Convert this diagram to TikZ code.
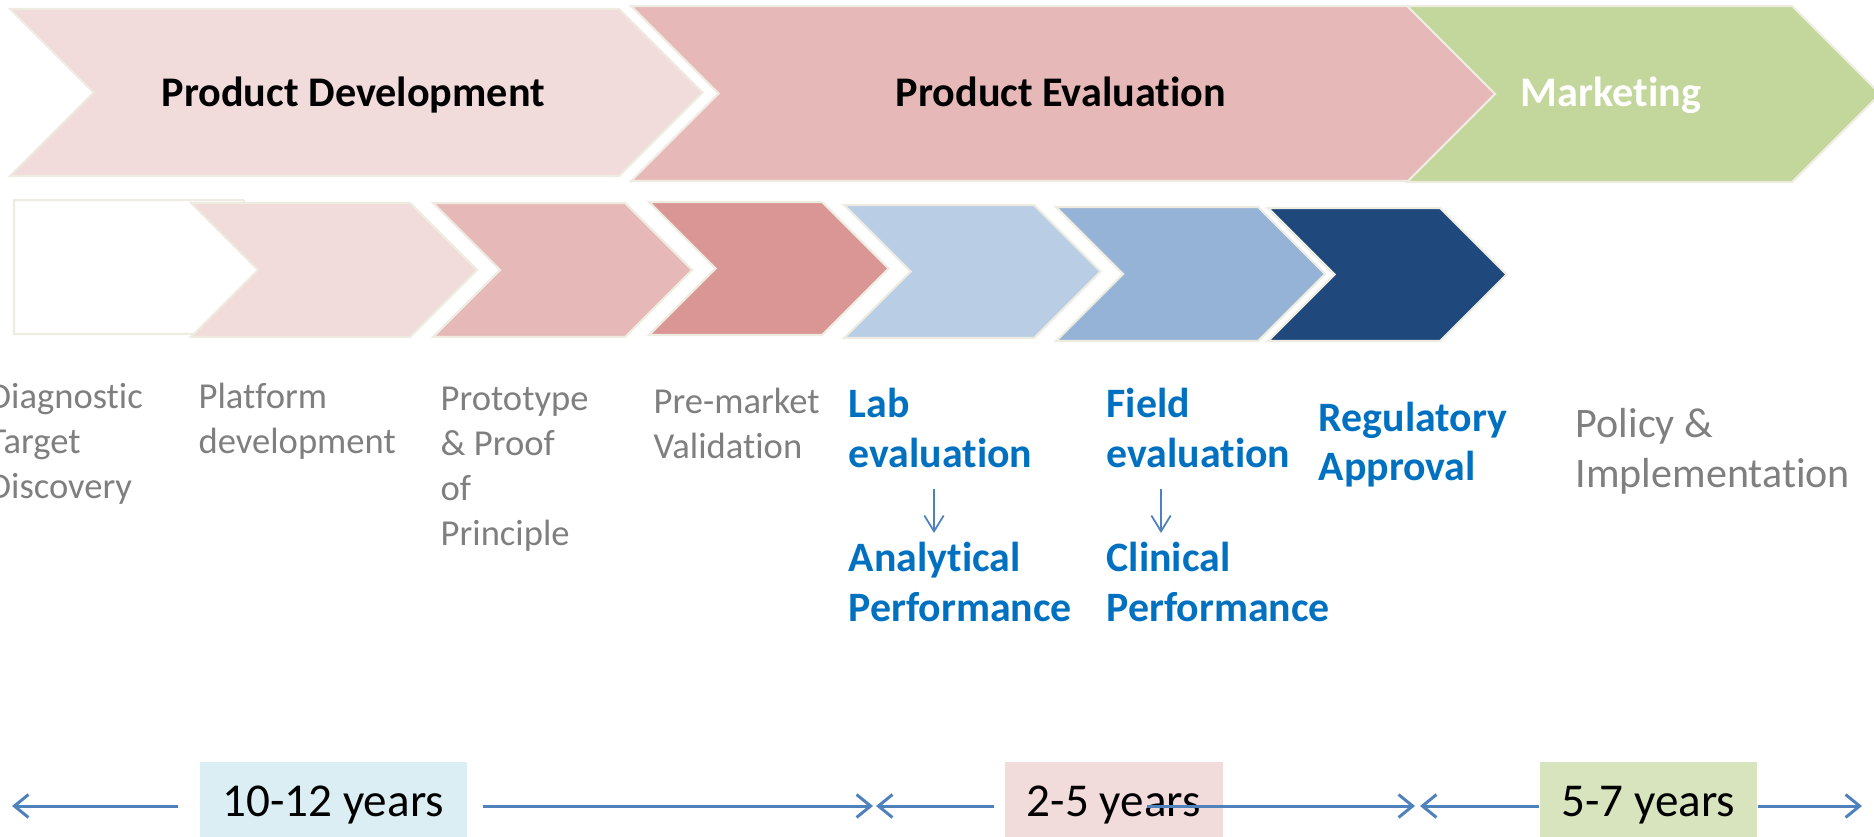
\documentclass[tikz,border=0pt]{standalone}
\usepackage{fontspec}
\setmainfont{Carlito}[Ligatures=CommonOff]
\usetikzlibrary{arrows.meta}
\definecolor{pkA}{HTML}{F2DCDB}
\definecolor{pkB}{HTML}{E6B9B8}
\definecolor{pkC}{HTML}{D99694}
\definecolor{blA}{HTML}{B9CDE5}
\definecolor{blB}{HTML}{95B3D7}
\definecolor{navy}{HTML}{1F497D}
\definecolor{grn}{HTML}{C3D69B}
\definecolor{cream}{HTML}{EEECE1}
\definecolor{txtgray}{HTML}{7F7F7F}
\definecolor{txtblue}{HTML}{0070C0}
\definecolor{lnblue}{HTML}{4F81BD}
\definecolor{yrA}{HTML}{DAEEF3}
\definecolor{yrB}{HTML}{F2DCDB}
\definecolor{yrC}{HTML}{D7E4BD}
\newcommand\mychev[5]{%
  \pgfmathsetmacro\chM{(#4+#5)/2}%
  \pgfmathsetmacro\chD{(#5-#4)/2}%
  \path[#1] (#2,#4) -- (#3,#4) -- ({#3+\chD},\chM) -- (#3,#5) -- (#2,#5) -- ({#2+\chD},\chM) -- cycle;}
\tikzset{
  chevbox/.style={draw=cream, line width=0.6pt, line join=miter},
  hdr/.style={anchor=base west, inner sep=0, font=\bfseries\fontsize{12}{14}\selectfont},
  graylbl/.style={anchor=base west, inner sep=0, text=txtgray, font=\fontsize{10.4}{12.8}\selectfont},
  bluelbl/.style={anchor=base west, inner sep=0, text=txtblue, font=\bfseries\fontsize{11.9}{14.5}\selectfont},
  biglbl/.style={anchor=base west, inner sep=0, text=txtgray, font=\fontsize{11.95}{14.5}\selectfont},
  yrbox/.style={anchor=north west, inner sep=0, minimum height=0.76cm, text height=15.65pt, text depth=5.98pt, font=\fontsize{13.4}{16}\selectfont},
  tline/.style={draw=lnblue, line width=0.85pt, -{Straight Barb[length=4pt,width=6.5pt]}},
  dline/.style={draw=lnblue, line width=0.5pt, -{Straight Barb[length=4.5pt,width=5.5pt]}}
}
\begin{document}
\begin{tikzpicture}[x=0.01cm, y=-0.01cm]
\useasboundingbox (0,0) rectangle (1874,837);
% top row
\mychev{chevbox, fill=pkA}{10}{619}{9}{176}
\mychev{chevbox, fill=pkB}{631}{1408}{6}{181}
\mychev{chevbox, fill=grn}{1407}{1792}{6}{182}
\node[hdr] (pd) at (161,107) {Product Development};
\node[hdr] (pe) at (895,107) {Product Evaluation};
\node[hdr, text=white] (mk) at (1520,107) {Marketing};
% lower row
\path[chevbox, fill=white] (14,200) -- (243,200) -- (310,267) -- (243,334) -- (14,334) -- cycle;
\mychev{chevbox, fill=pkA}{191}{410}{203}{337}
\mychev{chevbox, fill=pkB}{433}{625}{203}{337}
\mychev{chevbox, fill=pkC}{649}{822}{202}{335}
\mychev{chevbox, fill=blA}{844}{1034}{205}{338}
\mychev{chevbox, fill=blB}{1056}{1258}{207}{341}
\mychev{chevbox, fill=navy}{1268}{1440}{208}{341}
% labels
\node[graylbl] (diag) at (-12,408) {\begin{tabular}[t]{@{}l@{}}Diagnostic\\Target\\Discovery\end{tabular}};
\node[graylbl] (plat) at (198,408) {\begin{tabular}[t]{@{}l@{}}Platform\\development\end{tabular}};
\node[graylbl] (prot) at (440,410) {\begin{tabular}[t]{@{}l@{}}Prototype\\\& Proof\\of\\Principle\end{tabular}};
\node[graylbl] (prem) at (653,413) {\begin{tabular}[t]{@{}l@{}}Pre-market\\Validation\end{tabular}};
\node[bluelbl] (lab) at (848,417) {\begin{tabular}[t]{@{}l@{}}Lab\\evaluation\end{tabular}};
\node[bluelbl] (ana) at (848,571) {\begin{tabular}[t]{@{}l@{}}Analytical\\Performance\end{tabular}};
\node[bluelbl] (fld) at (1106,417) {\begin{tabular}[t]{@{}l@{}}Field\\evaluation\end{tabular}};
\node[bluelbl] (cli) at (1106,571) {\begin{tabular}[t]{@{}l@{}}Clinical\\Performance\end{tabular}};
\node[bluelbl, font=\bfseries\fontsize{11.9}{14.2}\selectfont] (reg) at (1318,431) {\begin{tabular}[t]{@{}l@{}}Regulatory\\Approval\end{tabular}};
\node[biglbl] (pol) at (1575,437) {\begin{tabular}[t]{@{}l@{}}Policy \&\\Implementation\end{tabular}};
% down arrows
\coordinate (a1s) at (934,489); \coordinate (a1e) at (934,533);
\coordinate (a2s) at (1161,489); \coordinate (a2e) at (1161,533);
\draw[dline] (a1s) -- (a1e);
\draw[dline] (a2s) -- (a2e);
% timeline
\node[yrbox, fill=yrA, minimum width=2.67cm] (y1) at (199,761) {10-12 years};
\node[yrbox, fill=yrB, minimum width=2.18cm] (y2) at (1004,761) {2-5 years};
\node[yrbox, fill=yrC, minimum width=2.17cm] (y3) at (1539,761) {5-7 years};
\coordinate (e0) at (12,806);
\coordinate (e1) at (873,806);
\coordinate (e1b) at (876,806);
\coordinate (e2) at (1415,806);
\coordinate (e2b) at (1420,806);
\coordinate (e3) at (1862,806);
\draw[tline] (y1.west |- e0) ++(-21,0) -- (e0);
\draw[tline] (y1.east |- e0) ++(15,0) -- (e1);
\draw[tline] (y2.west |- e0) ++(-10,0) -- (e1b);
\draw[tline] (y2.center |- e0) ++(33,0) -- (e2);
\draw[tline] (y3.west |- e0) -- (e2b);
\draw[tline] (y3.east |- e0) -- (e3);
\end{tikzpicture}
\end{document}
